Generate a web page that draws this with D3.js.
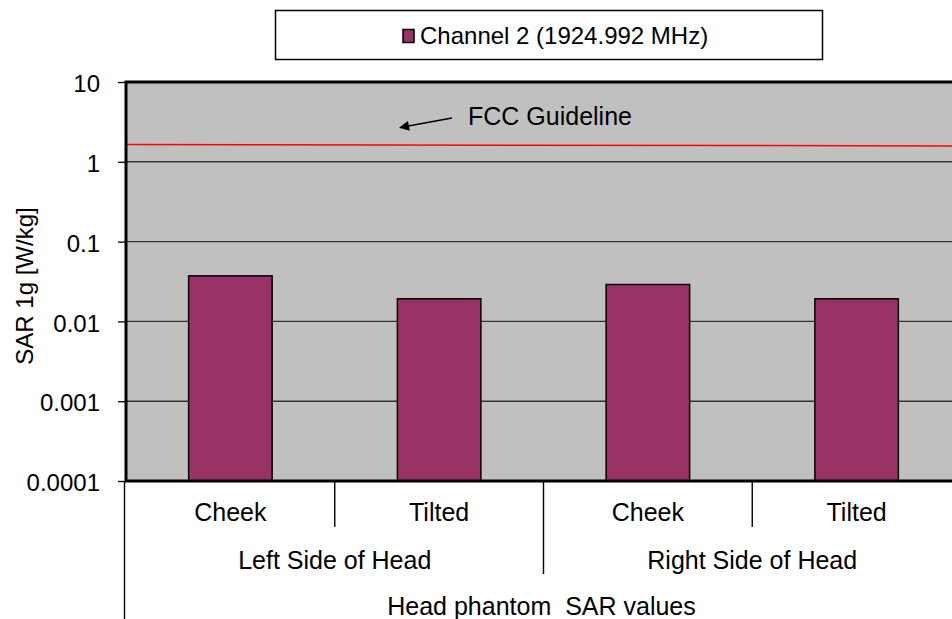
<!DOCTYPE html>
<html>
<head>
<meta charset="utf-8">
<script src="https://cdn.jsdelivr.net/npm/d3@7"></script>
<style>
  html, body { margin: 0; padding: 0; background: #fff; }
  svg { display: block; font-family: "Liberation Sans", Arial, sans-serif; }
</style>
</head>
<body>
<svg id="chart" width="952" height="619"></svg>
<script>
// ---- data ----
const positions = ["Cheek", "Tilted", "Cheek", "Tilted"];
const sides = ["Left Side of Head", "Right Side of Head"];
const sarValues = [0.0372, 0.0192, 0.029, 0.0192];
const yTicks = [0.0001, 0.001, 0.01, 0.1, 1, 10];
const yTickLabels = ["0.0001", "0.001", "0.01", "0.1", "1", "10"];
const guidelineEnds = [1.65, 1.58];
const seriesName = "Channel 2 (1924.992 MHz)";
const yTitle = "SAR 1g [W/kg]";
const xTitle = "Head phantom  SAR values";
const guidelineLabel = "FCC Guideline";

// ---- layout ----
const svg = d3.select("#chart");
const pL = 126, pR = 961, pT = 82, pB = 481;
const fs = 24, fsX = 25;

const x = d3.scaleBand().domain(d3.range(positions.length))
  .range([pL, pR]).paddingInner(0.6).paddingOuter(0.3);
const y = d3.scaleLog().domain([1e-4, 10]).range([pB, pT]);
const step = x.step();

// plot background
svg.append("rect").attr("x", pL).attr("y", pT)
  .attr("width", pR - pL).attr("height", pB - pT)
  .attr("fill", "#C0C0C0");

// gridlines
svg.append("g").selectAll("line").data(yTicks.slice(1, -1)).join("line")
  .attr("x1", pL).attr("x2", pR)
  .attr("y1", d => y(d)).attr("y2", d => y(d))
  .attr("stroke", "#333").attr("stroke-width", 1.4);

// bars
svg.append("g").selectAll("rect").data(sarValues).join("rect")
  .attr("x", (d, i) => x(i)).attr("width", x.bandwidth())
  .attr("y", d => y(d)).attr("height", d => pB - y(d))
  .attr("fill", "#993366").attr("stroke", "#000").attr("stroke-width", 1.5);

// guideline
const gl = d3.line().x(d => d[0]).y(d => y(d[1]));
svg.append("path")
  .attr("d", gl([[pL, guidelineEnds[0]], [pR, guidelineEnds[1]]]))
  .attr("stroke", "#FF0000").attr("stroke-width", 1.5).attr("fill", "none");

// arrow annotation
svg.append("defs").append("marker").attr("id", "ah")
  .attr("viewBox", "0 0 10 10").attr("refX", 9).attr("refY", 5)
  .attr("markerWidth", 14).attr("markerHeight", 10).attr("markerUnits", "userSpaceOnUse")
  .attr("orient", "auto")
  .append("path").attr("d", "M0,0 L10,5 L0,10 Z").attr("fill", "#000");
svg.append("line").attr("x1", 452).attr("y1", 118).attr("x2", 400).attr("y2", 127.5)
  .attr("stroke", "#000").attr("stroke-width", 1.5).attr("marker-end", "url(#ah)");
svg.append("text").attr("x", 468).attr("y", 125).attr("font-size", fsX)
  .text(guidelineLabel);

// axes frame (thick)
svg.append("path")
  .attr("d", `M${pR},${pT} H${pL} V${pB} H${pR}`)
  .attr("fill", "none").attr("stroke", "#000").attr("stroke-width", 3);

// y axis ticks & labels
const yg = svg.append("g").attr("transform", `translate(${pL},0)`)
  .call(d3.axisLeft(y).tickValues(yTicks).tickSize(8).tickPadding(0)
    .tickFormat((d, i) => yTickLabels[i]));
yg.select(".domain").remove();
yg.selectAll(".tick line").attr("stroke", "#000").attr("stroke-width", 1.3);
yg.selectAll(".tick text").attr("font-size", fs).attr("fill", "#000")
  .attr("font-family", "Liberation Sans, Arial, sans-serif")
  .attr("x", -26).attr("dy", "0.4em");

// y title
svg.append("text").attr("transform", `translate(33,286) rotate(-90)`)
  .attr("text-anchor", "middle").attr("font-size", fs).text(yTitle);

// x axis category dividers
const xb = svg.append("g").attr("stroke", "#000").attr("stroke-width", 1.4);
xb.append("line").attr("x1", 124.5).attr("x2", 124.5).attr("y1", pB).attr("y2", 619);
d3.range(1, positions.length).forEach(i => {
  const xx = pL + i * step;
  const isGroup = (i % 2 === 0);
  xb.append("line").attr("x1", xx).attr("x2", xx)
    .attr("y1", pB).attr("y2", isGroup ? 574 : 527);
});

// category labels
svg.append("g").selectAll("text").data(positions).join("text")
  .attr("x", (d, i) => x(i) + x.bandwidth() / 2).attr("y", 521)
  .attr("text-anchor", "middle").attr("font-size", fsX).text(d => d);

svg.append("g").selectAll("text").data(sides).join("text")
  .attr("x", (d, i) => pL + (2 * i + 1) * step).attr("y", 569)
  .attr("text-anchor", "middle").attr("font-size", fsX).text(d => d);

svg.append("text").attr("x", (pL + pR) / 2 - 2).attr("y", 615)
  .attr("text-anchor", "middle").attr("font-size", fsX)
  .style("white-space", "pre").text(xTitle);

// legend
svg.append("rect").attr("x", 275.5).attr("y", 10.5).attr("width", 547).attr("height", 49)
  .attr("fill", "#fff").attr("stroke", "#000").attr("stroke-width", 1.5);
svg.append("rect").attr("x", 403).attr("y", 29.5).attr("width", 11).attr("height", 13)
  .attr("fill", "#993366").attr("stroke", "#000").attr("stroke-width", 1.5);
svg.append("text").attr("x", 420).attr("y", 44).attr("font-size", fs).text(seriesName);
</script>
</body>
</html>
